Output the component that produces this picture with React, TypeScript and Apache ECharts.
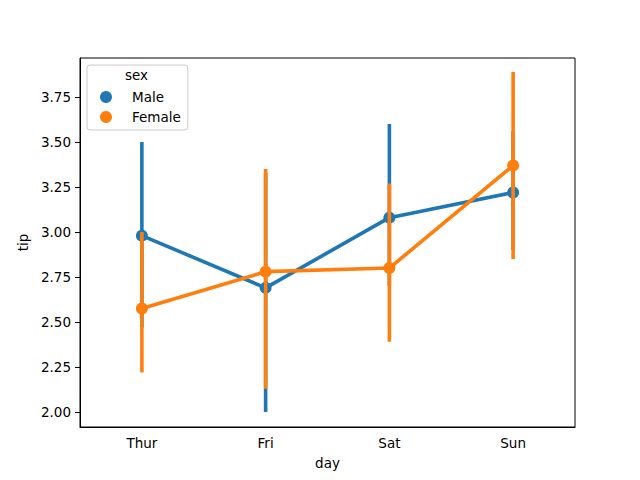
import React, { useEffect, useRef } from "react";
import * as echarts from "echarts";

const days = ["Thur", "Fri", "Sat", "Sun"];
const maleMean = [2.98, 2.69, 3.08, 3.22];
const maleLow = [2.47, 2.0, 2.7, 2.9];
const maleHigh = [3.5, 3.33, 3.6, 3.56];
const femaleMean = [2.575, 2.78, 2.8, 3.37];
const femaleLow = [2.22, 2.13, 2.39, 2.85];
const femaleHigh = [3.0, 3.35, 3.27, 3.89];

const BLUE = "#1f77b4";
const ORANGE = "#ff7f0e";
const FONT = "DejaVu Sans";
const FS = 13.5;

function errSeries(name: string, lo: number[], hi: number[], color: string, z: number) {
  return {
    type: "custom",
    name,
    z,
    silent: true,
    data: lo.map((l, i) => [i, l, hi[i]]),
    encode: { x: 0, y: [1, 2] },
    renderItem: (params: any, api: any) => {
      const x = api.value(0);
      const a = api.coord([x, api.value(1)]);
      const b = api.coord([x, api.value(2)]);
      return {
        type: "line",
        shape: { x1: a[0], y1: a[1], x2: b[0], y2: b[1] },
        style: { stroke: color, lineWidth: 3.6 },
      };
    },
  };
}

export default function App() {
  const ref = useRef<HTMLDivElement>(null);
  useEffect(() => {
    document.body.style.margin = "0";
    const chart = echarts.init(ref.current!, null, { renderer: "svg" });
    chart.setOption({
      animation: false,
      backgroundColor: "#ffffff",
      textStyle: { fontFamily: FONT },
      grid: {
        left: 80,
        right: 65,
        top: 58,
        bottom: 53,
        show: true,
        borderColor: "#000",
        borderWidth: 1,
        backgroundColor: "#fff",
      },
      xAxis: {
        type: "category",
        data: days,
        boundaryGap: true,
        name: "day",
        nameLocation: "middle",
        nameGap: 29,
        nameTextStyle: { color: "#000", fontSize: FS, fontFamily: FONT },
        axisLine: { lineStyle: { color: "#000", width: 1 } },
        axisTick: { alignWithLabel: true, length: 5, lineStyle: { color: "#000" } },
        axisLabel: { color: "#000", fontSize: FS, margin: 9, fontFamily: FONT },
        splitLine: { show: false },
      },
      yAxis: {
        type: "value",
        min: 1.917,
        max: 3.967,
        minInterval: 0.25,
        maxInterval: 0.25,
        name: "tip",
        nameLocation: "middle",
        nameGap: 47,
        nameTextStyle: { color: "#000", fontSize: FS, fontFamily: FONT },
        axisLine: { show: true, lineStyle: { color: "#000", width: 1 } },
        axisTick: { show: true, length: 5, lineStyle: { color: "#000" } },
        axisLabel: {
          color: "#000",
          fontSize: FS,
          margin: 9,
          fontFamily: FONT,
          showMinLabel: false,
          showMaxLabel: false,
          formatter: (v: number) => v.toFixed(2),
        },
        splitLine: { show: false },
      },
      legend: {
        left: 87,
        top: 65,
        orient: "vertical",
        icon: "circle",
        itemWidth: 12,
        itemHeight: 12,
        itemGap: 6,
        padding: [25, 7, 6, 13],
        backgroundColor: "rgba(255,255,255,0.8)",
        borderColor: "#cccccc",
        borderWidth: 1,
        borderRadius: 3,
        textStyle: { color: "#000", fontSize: FS, fontFamily: FONT, padding: [0, 0, 0, 15] },
        data: [
          { name: "Male", itemStyle: { color: BLUE } },
          { name: "Female", itemStyle: { color: ORANGE } },
        ],
        z: 10,
      },
      graphic: [
        {
          type: "text",
          left: 125,
          top: 68,
          z: 100,
          style: { text: "sex", fill: "#000", fontSize: FS, fontFamily: FONT },
        },
      ],
      series: [
        {
          type: "line",
          name: "Male",
          data: maleMean,
          z: 2,
          symbol: "circle",
          symbolSize: 12,
          itemStyle: { color: BLUE },
          lineStyle: { color: BLUE, width: 3.6 },
        },
        errSeries("Male", maleLow, maleHigh, BLUE, 2),
        {
          type: "line",
          name: "Female",
          data: femaleMean,
          z: 3,
          symbol: "circle",
          symbolSize: 12,
          itemStyle: { color: ORANGE },
          lineStyle: { color: ORANGE, width: 3.6 },
        },
        errSeries("Female", femaleLow, femaleHigh, ORANGE, 3),
      ],
    });
    return () => chart.dispose();
  }, []);
  return <div ref={ref} style={{ width: 640, height: 480 }} />;
}
